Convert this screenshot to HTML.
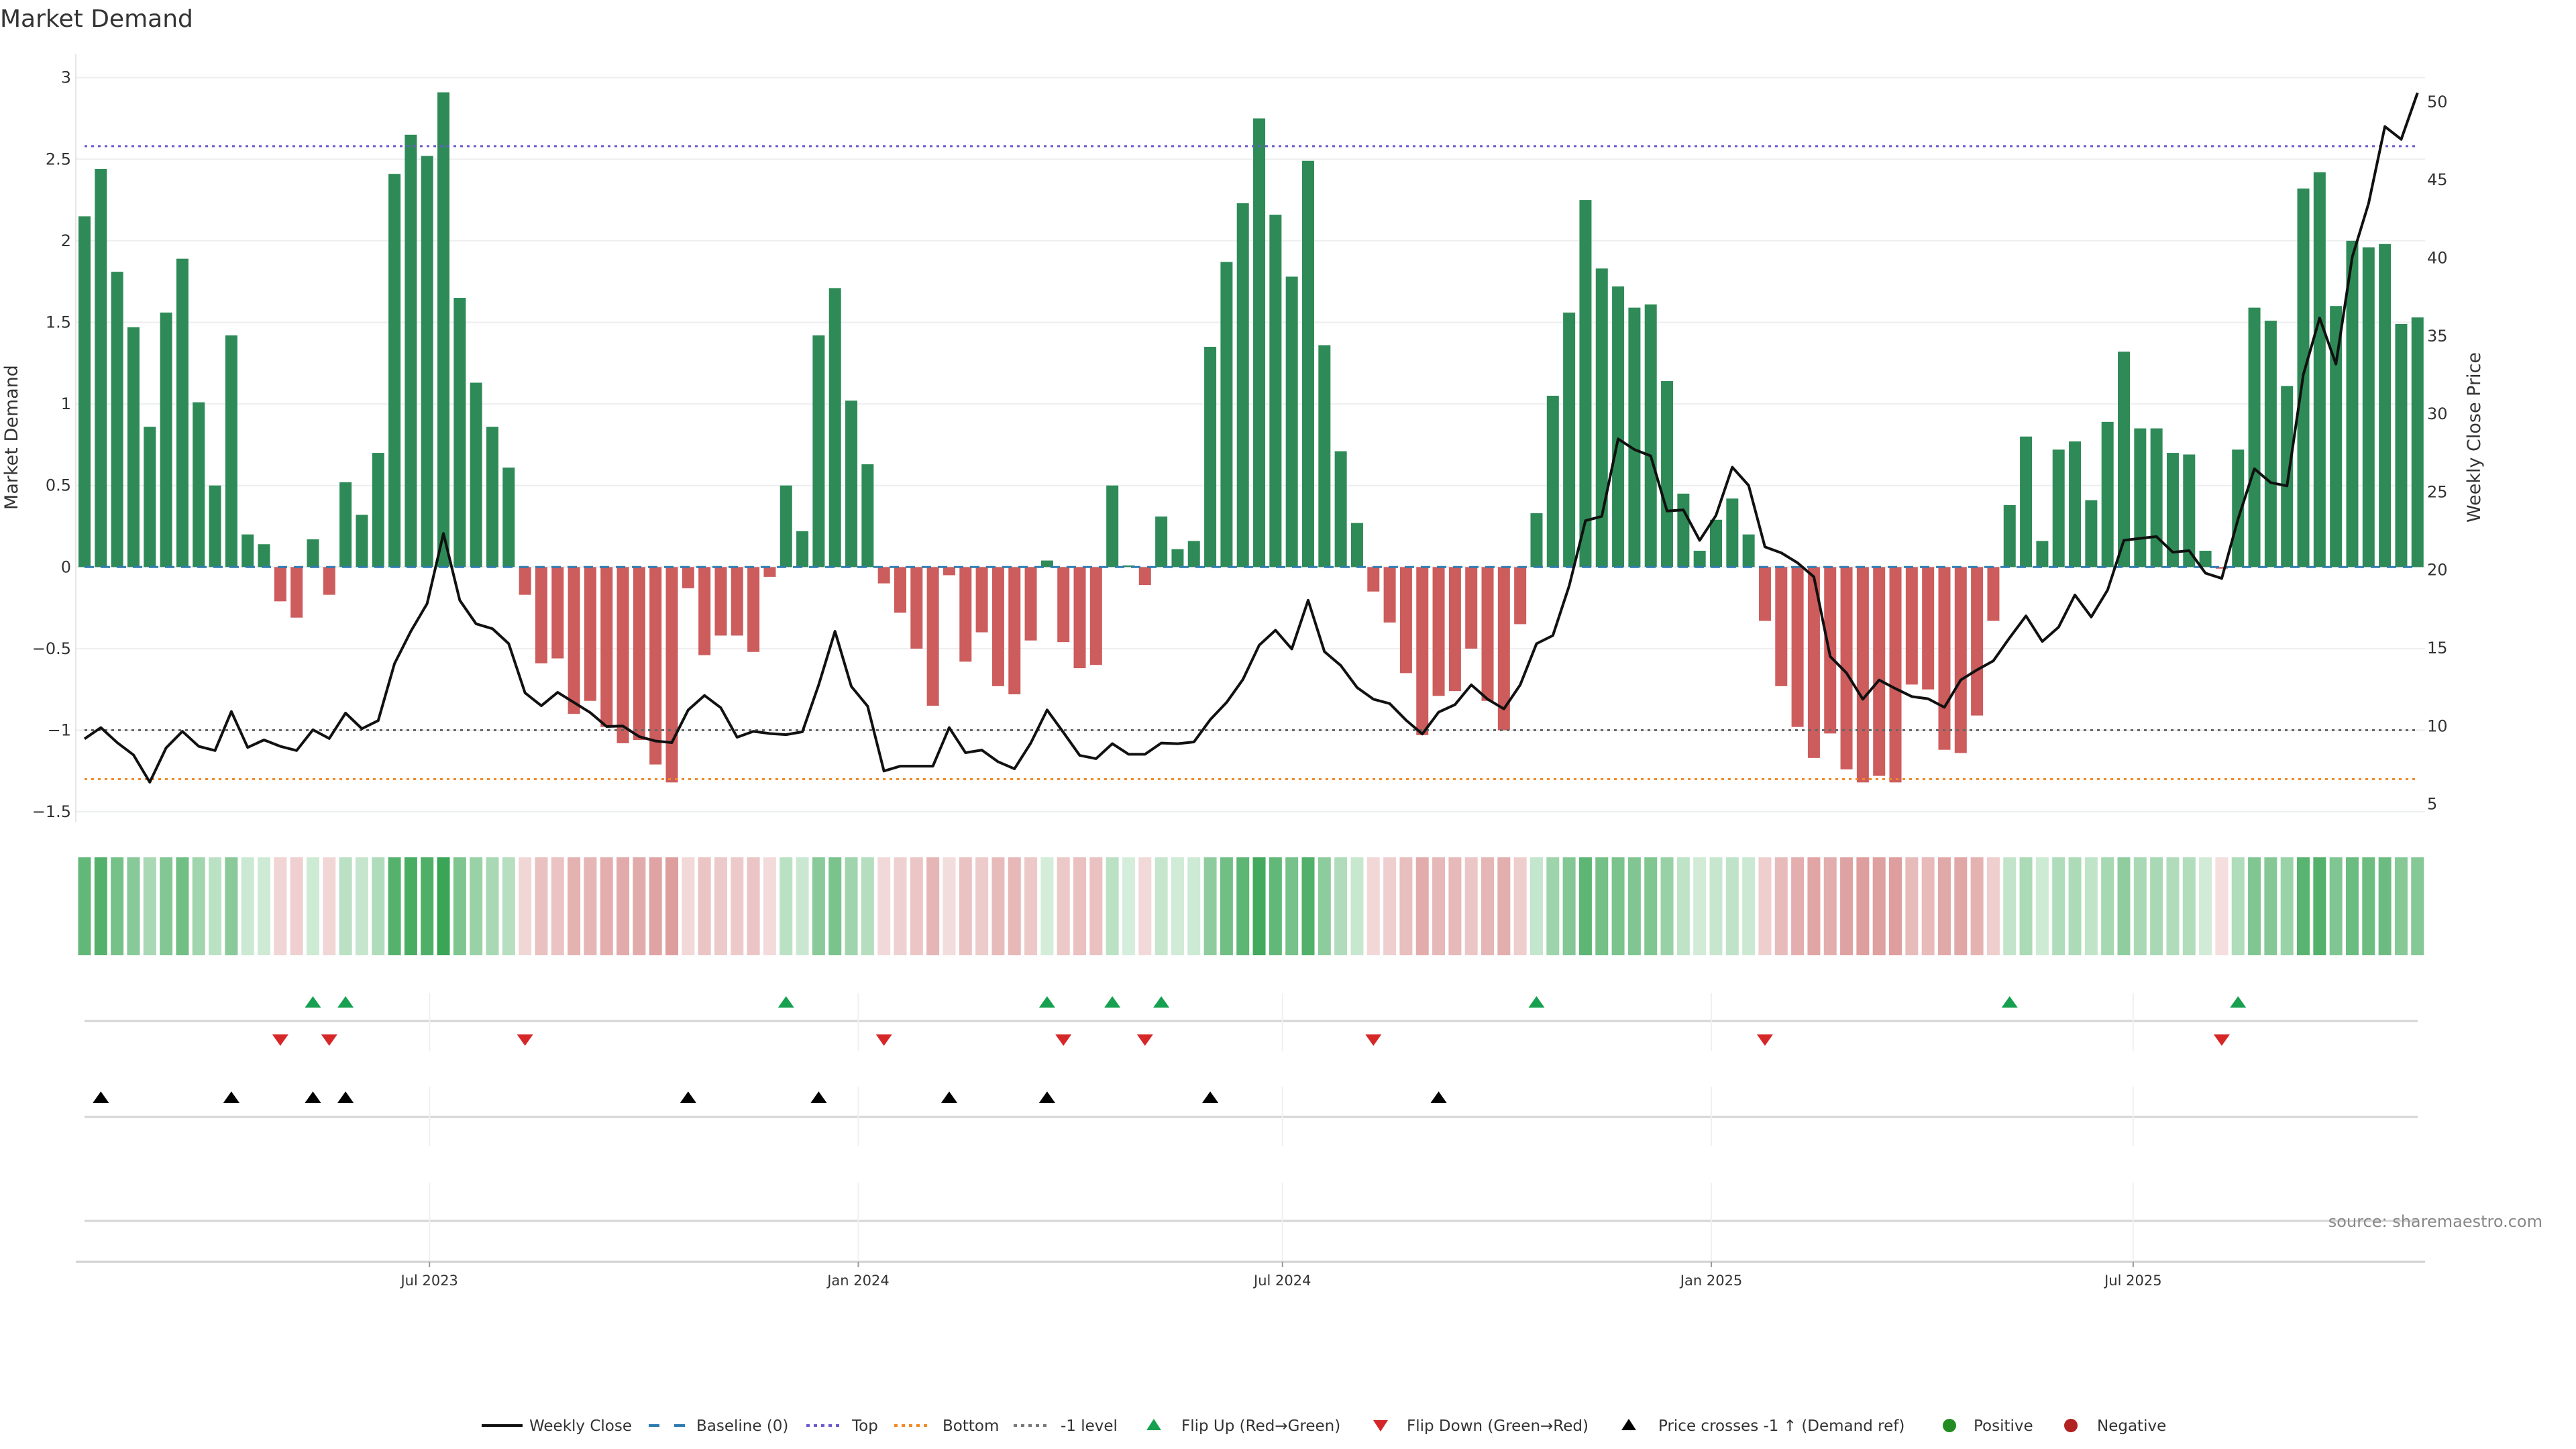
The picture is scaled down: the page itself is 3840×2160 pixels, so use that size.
<!DOCTYPE html>
<html><head><meta charset="utf-8"><style>
html,body{margin:0;padding:0;background:#fff;}
svg{display:block;font-family:"DejaVu Sans","Liberation Sans",sans-serif;}
</style></head><body>
<svg id="chart" width="3840" height="2160" viewBox="0 0 3840 2160" xmlns="http://www.w3.org/2000/svg">
<text x="0" y="40" font-size="36" fill="#333">Market Demand</text>
<g id="grid"></g><g id="bars"></g><g id="refs"></g><g id="price"></g><g id="heat"></g><g id="panels"></g><g id="axes"></g><g id="legend"></g>
</svg>
<script>
const demand = [2.15,2.44,1.81,1.47,0.86,1.56,1.89,1.01,0.50,1.42,0.20,0.14,-0.21,-0.31,0.17,-0.17,0.52,0.32,0.70,2.41,2.65,2.52,2.91,1.65,1.13,0.86,0.61,-0.17,-0.59,-0.56,-0.90,-0.82,-0.98,-1.08,-1.06,-1.21,-1.32,-0.13,-0.54,-0.42,-0.42,-0.52,-0.06,0.50,0.22,1.42,1.71,1.02,0.63,
-0.10,-0.28,-0.50,-0.85,-0.05,-0.58,-0.40,-0.73,-0.78,-0.45,0.04,-0.46,-0.62,-0.60,0.50,0.01,-0.11,0.31,0.11,0.16,1.35,1.87,2.23,2.75,2.16,1.78,2.49,1.36,0.71,0.27,-0.15,-0.34,-0.65,-1.03,-0.79,-0.76,-0.50,-0.82,-1.00,-0.35,0.33,1.05,1.56,2.25,1.83,1.72,1.59,1.61,1.14,0.45,0.10,
0.29,0.42,0.20,-0.33,-0.73,-0.98,-1.17,-1.02,-1.24,-1.32,-1.28,-1.32,-0.72,-0.75,-1.12,-1.14,-0.91,-0.33,0.38,0.80,0.16,0.72,0.77,0.41,0.89,1.32,0.85,0.85,0.70,0.69,0.10,-0.01,0.72,1.59,1.51,1.11,2.32,2.42,1.60,2.00,1.96,1.98,1.49,1.53];
const price = [9.18,9.9,8.94,8.15,6.4,8.6,9.66,8.7,8.43,10.93,8.63,9.11,8.7,8.43,9.76,9.2,10.83,9.83,10.35,14.0,16.07,17.85,22.34,18.06,16.55,16.24,15.28,12.13,11.3,12.16,11.51,10.86,9.97,10.0,9.32,9.04,8.94,11.03,11.96,11.17,9.28,9.66,9.52,9.45,9.63,12.64,16.07,12.54,11.27,
7.12,7.43,7.43,7.43,9.9,8.29,8.46,7.71,7.26,8.91,11.03,9.59,8.12,7.91,8.87,8.19,8.19,8.91,8.87,8.98,10.41,11.51,12.98,15.18,16.14,14.94,18.06,14.77,13.88,12.47,11.72,11.44,10.38,9.49,10.89,11.37,12.64,11.72,11.1,12.64,15.28,15.8,18.98,23.16,23.44,28.4,27.72,27.31,23.78,23.85,21.9,
23.5,26.59,25.42,21.48,21.1,20.46,19.56,14.46,13.4,11.72,12.95,12.4,11.89,11.75,11.2,12.95,13.6,14.18,15.66,17.06,15.42,16.34,18.4,16.99,18.71,21.9,22.03,22.14,21.14,21.24,19.8,19.46,23.27,26.49,25.6,25.39,32.52,36.15,33.2,40.06,43.49,48.42,47.6,50.58];
const demandTicks = [3,2.5,2,1.5,1,0.5,0,-0.5,-1,-1.5];
const demandTickLabels = ["3","2.5","2","1.5","1","0.5","0","\u22120.5","\u22121","\u22121.5"];
const priceTicks = [50,45,40,35,30,25,20,15,10,5];
const dateTicks = ["2023-07-01","2024-01-01","2024-07-01","2025-01-01","2025-07-01"];
const dateTickLabels = ["Jul 2023","Jan 2024","Jul 2024","Jan 2025","Jul 2025"];
const topLevel = 2.58, bottomLevel = -1.30, minusOneLevel = -1.0, priceCrossLevel = 9.73;
const startDate = "2023-02-03";

const NS="http://www.w3.org/2000/svg";
function mk(tag, attrs, parent){const e=document.createElementNS(NS,tag);for(const k in attrs)e.setAttribute(k,attrs[k]);parent.appendChild(e);return e;}
const WEEK=7*864e5, d0=new Date(startDate).getTime(), STEP=24.32, X0=126;
const xDate = d => X0 + (new Date(d).getTime()-d0)/WEEK*STEP;
const xIdx = i => X0 + i*STEP;
const yD = v => 845.3 - v*243.2;
const yP = p => 1198.6 - (p-5)*23.26;
const PL=113, PR=3615;
const G=id=>document.getElementById(id);

// grid + demand ticks
demandTicks.forEach((t,k)=>{
  const l=mk('line',{x1:PL,x2:PR,y1:yD(t),y2:yD(t),stroke:'#eceef0','stroke-width':2},G('grid'));
  
  
  const tx=mk('text',{x:106,y:yD(t)+8,'text-anchor':'end','font-size':24,fill:'#333'},G('axes'));
  tx.textContent=demandTickLabels[k];
  
  
});
priceTicks.forEach(p=>{
  const tx=mk('text',{x:3618,y:yP(p)+8,'font-size':24,fill:'#333'},G('axes'));
  tx.textContent=String(p);
  
  
});
mk('line',{x1:PL,x2:PL,y1:80,y2:1225,stroke:'#e6e6e6','stroke-width':2},G('axes'));

// bars
demand.forEach((v,i)=>{
  const y0=yD(0), y1=yD(v);
  const r=mk('rect',{x:xIdx(i)-9,y:Math.min(y0,y1),width:18,height:Math.max(1,Math.abs(y1-y0)),fill:v>=0?'#2e8b57':'#cd5c5c'},G('bars'));
  
  
});
// reference lines
function ref(v,color,dash,name){
  const l=mk('line',{x1:X0,x2:xIdx(demand.length-1),y1:yD(v),y2:yD(v),stroke:color,'stroke-width':3,'stroke-dasharray':dash},G('refs'));
  
  
}
ref(0,'#2f7bb0','14 10','baseline-zero');
ref(topLevel,'#6a5acd','4 6','top-level-line');
ref(bottomLevel,'#f08a24','4 6','bottom-level-line');
ref(minusOneLevel,'#666','4 6','minus-one-level-line');

// price line
const pl=mk('polyline',{points:price.map((p,i)=>xIdx(i)+','+yP(p)).join(' '),fill:'none',stroke:'#111','stroke-width':4,'stroke-linejoin':'round'},G('price'));



// heatmap
const maxPos=Math.max(...demand), maxNeg=Math.max(...demand.map(v=>-v));
function mix(a,b,t){return 'rgb('+a.map((c,k)=>Math.round(c+(b[k]-c)*t)).join(',')+')';}
demand.forEach((v,i)=>{
  const c = v>=0 ? mix([214,238,219],[58,165,86],v/maxPos) : mix([244,222,222],[222,158,158],-v/maxNeg);
  const r=mk('rect',{x:xIdx(i)-9.5,y:1278,width:19,height:146,fill:c},G('heat'));
  
  
});

// panels
const P=G('panels');
[[1522],[1665],[1820]].forEach(([y])=>{mk('line',{x1:X0,x2:3604,y1:y,y2:y,stroke:'#d4d4d4','stroke-width':3},P);});
dateTicks.forEach(d=>{
  const x=xDate(d);
  [[1480,1567],[1620,1708],[1763,1881]].forEach(([a,b])=>mk('line',{x1:x,x2:x,y1:a,y2:b,stroke:'#eef0f2','stroke-width':2},P));
});
function tri(x,y,up,color,name){
  const pts = up ? [[x,y-9],[x-12,y+8],[x+12,y+8]] : [[x,y+9],[x-12,y-8],[x+12,y-8]];
  const t=mk('polygon',{points:pts.map(p=>p.join(',')).join(' '),fill:color},P);
  
  
}
for(let i=1;i<demand.length;i++){
  if(demand[i-1]<0 && demand[i]>=0) tri(xIdx(i),1494,true,'#17a050','flip-up-marker');
  if(demand[i-1]>=0 && demand[i]<0) tri(xIdx(i),1550,false,'#d62728','flip-down-marker');
  if(price[i-1]<priceCrossLevel && price[i]>=priceCrossLevel) tri(xIdx(i),1636,true,'#000','price-cross-marker');
}
// x axis
mk('line',{x1:PL,x2:PR,y1:1881,y2:1881,stroke:'#d0d0d0','stroke-width':3},G('axes'));
dateTicks.forEach((d,k)=>{
  const x=xDate(d);
  mk('line',{x1:x,x2:x,y1:1881,y2:1889,stroke:'#999','stroke-width':2},G('axes'));
  const t=mk('text',{x:x,y:1916,'text-anchor':'middle','font-size':21,fill:'#333'},G('axes'));
  t.textContent=dateTickLabels[k];
  
  
});
</script>
<svg style="position:absolute;left:0;top:0" width="3840" height="2160" xmlns="http://www.w3.org/2000/svg" font-family="DejaVu Sans, Liberation Sans, sans-serif">
<text transform="translate(26,652) rotate(-90)" text-anchor="middle" font-size="27" fill="#333">Market Demand</text>
<text transform="translate(3697,652) rotate(-90)" text-anchor="middle" font-size="27" fill="#333">Weekly Close Price</text>
<text x="3790" y="1829" text-anchor="end" font-size="24" fill="#888">source: sharemaestro.com</text>
<g font-size="23" fill="#333">
 <line x1="718" x2="779" y1="2125" y2="2125" stroke="#111" stroke-width="4"/>
 <text x="789" y="2133">Weekly Close</text>
 <line x1="967" x2="1021" y1="2125" y2="2125" stroke="#2f7bb0" stroke-width="4" stroke-dasharray="16 22"/>
 <text x="1038" y="2133">Baseline (0)</text>
 <line x1="1202" x2="1254" y1="2125" y2="2125" stroke="#6a5acd" stroke-width="4" stroke-dasharray="5 6"/>
 <text x="1270" y="2133">Top</text>
 <line x1="1333" x2="1387" y1="2125" y2="2125" stroke="#f08a24" stroke-width="4" stroke-dasharray="5 6"/>
 <text x="1405" y="2133">Bottom</text>
 <line x1="1511" x2="1565" y1="2125" y2="2125" stroke="#777" stroke-width="4" stroke-dasharray="5 6"/>
 <text x="1581" y="2133">-1 level</text>
 <polygon points="1720,2115 1709,2132 1731,2132" fill="#17a050"/>
 <text x="1761" y="2133">Flip Up (Red→Green)</text>
 <polygon points="2058,2134 2047,2117 2069,2117" fill="#d62728"/>
 <text x="2097" y="2133">Flip Down (Green→Red)</text>
 <polygon points="2428,2115 2417,2132 2439,2132" fill="#000"/>
 <text x="2472" y="2133">Price crosses -1 ↑ (Demand ref)</text>
 <circle cx="2906" cy="2125" r="10" fill="#228b22"/>
 <text x="2942" y="2133">Positive</text>
 <circle cx="3087" cy="2125" r="10" fill="#b22222"/>
 <text x="3126" y="2133">Negative</text>
</g>
</svg>
</body></html>
